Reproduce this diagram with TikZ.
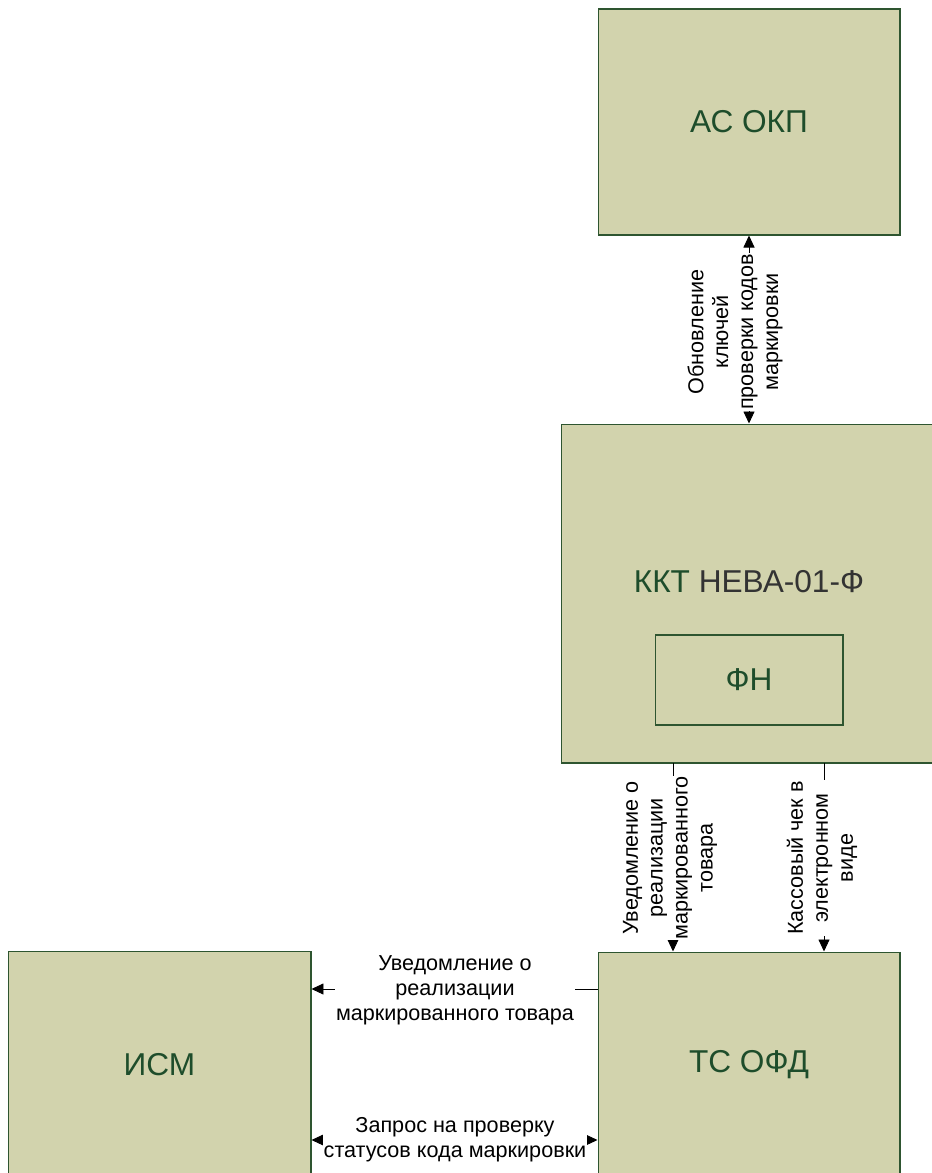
\documentclass[tikz,border=0pt]{standalone}
\usepackage{fontspec}
\setmainfont{Liberation Sans}
\usetikzlibrary{arrows.meta,positioning}
\definecolor{boxfill}{HTML}{D2D3AD}
\definecolor{boxline}{HTML}{2E5530}
\definecolor{boxtext}{HTML}{1E4D2B}
\definecolor{graytext}{HTML}{333333}

\begin{document}
\begin{tikzpicture}[x=0.02cm, y=-0.02cm, >={Triangle[length=0.24cm,width=0.22cm]},
    block/.style={draw=boxline, fill=boxfill, line width=0.6pt, inner sep=0pt, text=boxtext, font=\fontsize{18}{22}\selectfont},
    bigtext/.style={inner sep=0pt, text=boxtext, font=\fontsize{18}{22}\selectfont},
    flow/.style={fill=white, inner sep=0.5pt, align=center, font=\fontsize{12.3}{14.2}\selectfont},
    link/.style={line width=0.5pt}]
    \useasboundingbox (0,0) rectangle (932,1173);
    \clip (0,0) rectangle (932,1173);
    % blocks
    \node[block, minimum width=6.04cm, minimum height=4.52cm] (acokp) at (749,122) {АС ОКП};
    \node[block, minimum width=7.68cm, minimum height=6.78cm] (kkt) at (753,593.5) {};
    \node[bigtext] (kkttext) at (749,582) {ККТ \textcolor{graytext}{НЕВА-01-Ф}};
    \node[block, minimum width=3.76cm, minimum height=1.8cm] (fn) at (749,680) {ФН};
    \node[block, minimum width=6.04cm, minimum height=4.52cm] (tsofd) at (749,1065) {ТС ОФД};
    \node[block, minimum width=6.06cm, minimum height=4.54cm] (ism) at (159.5,1064.5) {ИСМ};
    % links
    \coordinate (out1) at (673,763);
    \coordinate (out2) at (824,763);
    \draw[link, <->] (acokp.south) -- (acokp.south |- kkt.north);
    \draw[link, ->] (out1) -- (out1 |- tsofd.north);
    \draw[link, ->] (out2) -- (out2 |- tsofd.north);
    \draw[link, ->] (tsofd.west |- 0,989) -- (ism.east |- 0,989);
    \draw[link, <->] (ism.east |- 0,1140) -- (tsofd.west |- 0,1140);
    % labels
    \node[flow, rotate=90] (keys) at (735,332) {Обновление\\ключей\\проверки кодов\\маркировки};
    \node[flow, rotate=90] (notice1) at (670,858) {Уведомление о\\реализации\\маркированного\\товара};
    \node[flow, rotate=90] (receipt) at (822,858) {Кассовый чек в\\электронном\\виде};
    \node[flow] (notice2) at (455,990) {Уведомление о\\реализации\\маркированного товара};
    \node[flow] (request) at (455,1140) {Запрос на проверку\\статусов кода маркировки};
\end{tikzpicture}
\end{document}
